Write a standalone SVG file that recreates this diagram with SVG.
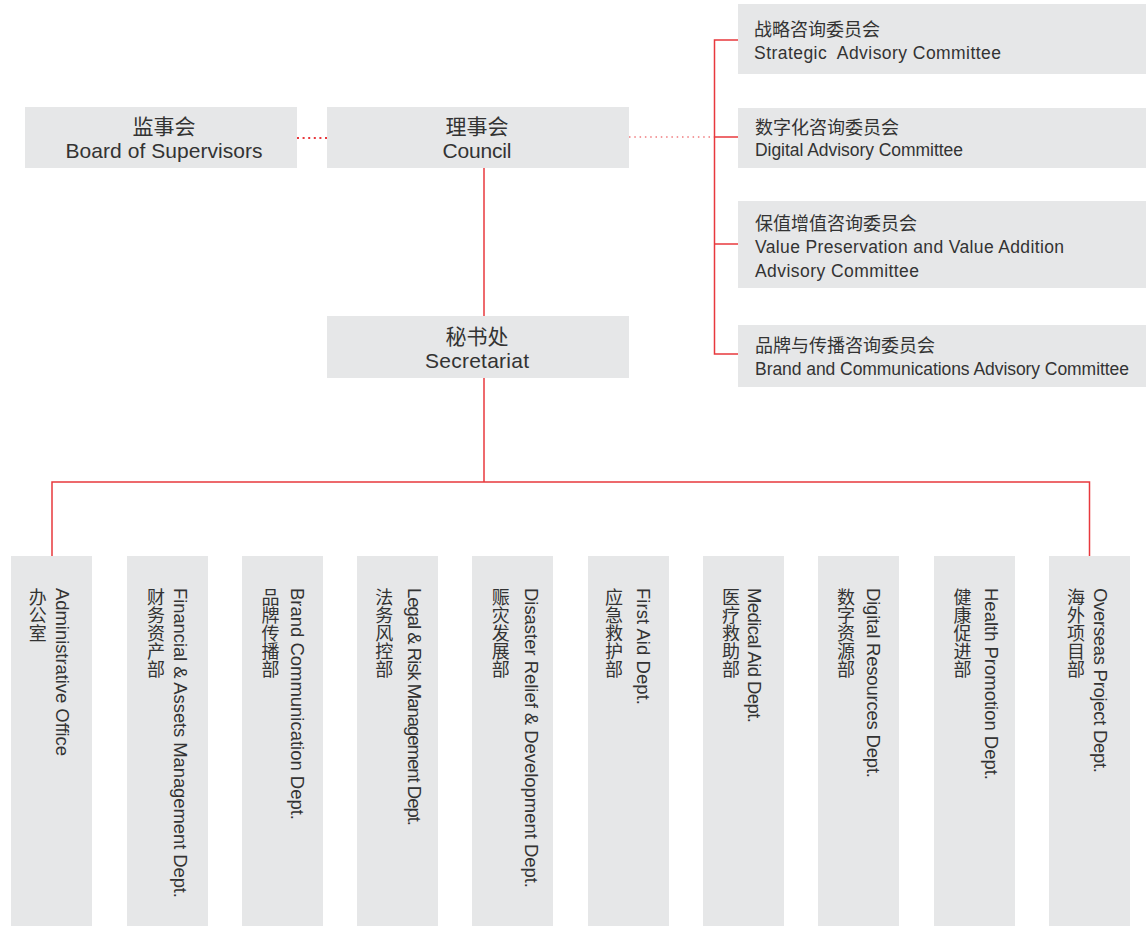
<svg xmlns="http://www.w3.org/2000/svg" width="1146" height="926" viewBox="0 0 1146 926">
<style>
.box{fill:#e6e7e8}
.ln{stroke:#e8383d;stroke-width:1.5;fill:none}
.dot{stroke:#e8383d;stroke-width:2;stroke-dasharray:2 3.6;fill:none}
.dot2{stroke:#e8383d;stroke-width:1.2;stroke-dasharray:1.5 3.8;fill:none}
.en{font-family:"Liberation Sans","Noto Sans CJK SC",sans-serif;fill:#333}
.cn{font-family:"Noto Sans CJK SC",sans-serif;fill:#333}
.t21{font-size:21px}
.t18{font-size:18px}
.c18{font-size:17.5px}
.v{font-size:18px;writing-mode:vertical-rl}
.r{font-size:18.5px}
</style>
<rect width="1146" height="926" fill="#fff"/>
<g id="connectors">
<line class="dot" x1="297" y1="138" x2="327" y2="138"/>
<line class="dot2" x1="629" y1="137" x2="714.5" y2="137"/>
<polyline class="ln" points="738,40 714.5,40 714.5,354 738,354"/>
<line class="ln" x1="714.5" y1="137" x2="738" y2="137"/>
<line class="ln" x1="714.5" y1="244" x2="738" y2="244"/>
<line class="ln" x1="484" y1="168" x2="484" y2="316"/>
<line class="ln" x1="484" y1="378" x2="484" y2="482"/>
<polyline class="ln" points="52,556 52,482 1089.5,482 1089.5,556"/>
</g>
<g id="supervisors">
<rect class="box" x="25" y="107" width="272" height="61"/>
<text class="cn t21" x="164" y="134" text-anchor="middle">监事会</text>
<text class="en t21" x="164" y="158" text-anchor="middle" textLength="197">Board of Supervisors</text>
</g>
<g id="council">
<rect class="box" x="327" y="107" width="302" height="61"/>
<text class="cn t21" x="477" y="134" text-anchor="middle">理事会</text>
<text class="en t21" x="477" y="158" text-anchor="middle" textLength="69">Council</text>
</g>
<g id="secretariat">
<rect class="box" x="327" y="316" width="302" height="62"/>
<text class="cn t21" x="477" y="344" text-anchor="middle">秘书处</text>
<text class="en t21" x="477" y="367.5" text-anchor="middle" textLength="104">Secretariat</text>
</g>
<g id="strategic">
<rect class="box" x="738" y="4" width="408" height="70"/>
<text class="cn t18" x="754" y="35.5">战略咨询委员会</text>
<text class="en c18" x="754" y="59" xml:space="preserve" textLength="247">Strategic  Advisory Committee</text>
</g>
<g id="digital">
<rect class="box" x="738" y="108" width="408" height="60"/>
<text class="cn t18" x="755" y="133.5">数字化咨询委员会</text>
<text class="en c18" x="755" y="156" textLength="208">Digital Advisory Committee</text>
</g>
<g id="value">
<rect class="box" x="738" y="201" width="408" height="87"/>
<text class="cn t18" x="755" y="230">保值增值咨询委员会</text>
<text class="en c18" x="755" y="253.3" textLength="309">Value Preservation and Value Addition</text>
<text class="en c18" x="755" y="276.7" textLength="164">Advisory Committee</text>
</g>
<g id="brand-committee">
<rect class="box" x="738" y="325" width="408" height="62"/>
<text class="cn t18" x="755" y="352">品牌与传播咨询委员会</text>
<text class="en c18" x="755" y="375" textLength="374">Brand and Communications Advisory Committee</text>
</g>
<g id="dept1">
<rect class="box" x="11" y="556" width="81" height="370"/>
<text class="cn v" x="37.7" y="588">办公室</text>
<text class="en r" transform="translate(56,588) rotate(90)" textLength="168">Administrative Office</text>
</g>
<g id="dept2">
<rect class="box" x="127" y="556" width="81" height="370"/>
<text class="cn v" x="156" y="588">财务资产部</text>
<text class="en r" transform="translate(174,588) rotate(90)" textLength="310">Financial &amp; Assets Management Dept.</text>
</g>
<g id="dept3">
<rect class="box" x="242" y="556" width="81" height="370"/>
<text class="cn v" x="270.5" y="588">品牌传播部</text>
<text class="en r" transform="translate(291,588) rotate(90)" textLength="232">Brand Communication Dept.</text>
</g>
<g id="dept4">
<rect class="box" x="357" y="556" width="81" height="370"/>
<text class="cn v" x="384.3" y="588">法务风控部</text>
<text class="en r" transform="translate(408,588) rotate(90)" textLength="238">Legal &amp; Risk Management Dept.</text>
</g>
<g id="dept5">
<rect class="box" x="472" y="556" width="81" height="370"/>
<text class="cn v" x="500.8" y="588">赈灾发展部</text>
<text class="en r" transform="translate(525,588) rotate(90)" textLength="300">Disaster Relief &amp; Development Dept.</text>
</g>
<g id="dept6">
<rect class="box" x="588" y="556" width="81" height="370"/>
<text class="cn v" x="614" y="588">应急救护部</text>
<text class="en r" transform="translate(637,588) rotate(90)" textLength="117">First Aid Dept.</text>
</g>
<g id="dept7">
<rect class="box" x="703" y="556" width="81" height="370"/>
<text class="cn v" x="731" y="588">医疗救助部</text>
<text class="en r" transform="translate(748,588) rotate(90)" textLength="135">Medical Aid Dept.</text>
</g>
<g id="dept8">
<rect class="box" x="818" y="556" width="81" height="370"/>
<text class="cn v" x="846" y="588">数字资源部</text>
<text class="en r" transform="translate(867,588) rotate(90)" textLength="190">Digital Resources Dept.</text>
</g>
<g id="dept9">
<rect class="box" x="934" y="556" width="81" height="370"/>
<text class="cn v" x="962.5" y="588">健康促进部</text>
<text class="en r" transform="translate(985,588) rotate(90)" textLength="192">Health Promotion Dept.</text>
</g>
<g id="dept10">
<rect class="box" x="1049" y="556" width="81" height="370"/>
<text class="cn v" x="1076" y="588">海外项目部</text>
<text class="en r" transform="translate(1094,588) rotate(90)" textLength="185">Overseas Project Dept.</text>
</g>
</svg>
